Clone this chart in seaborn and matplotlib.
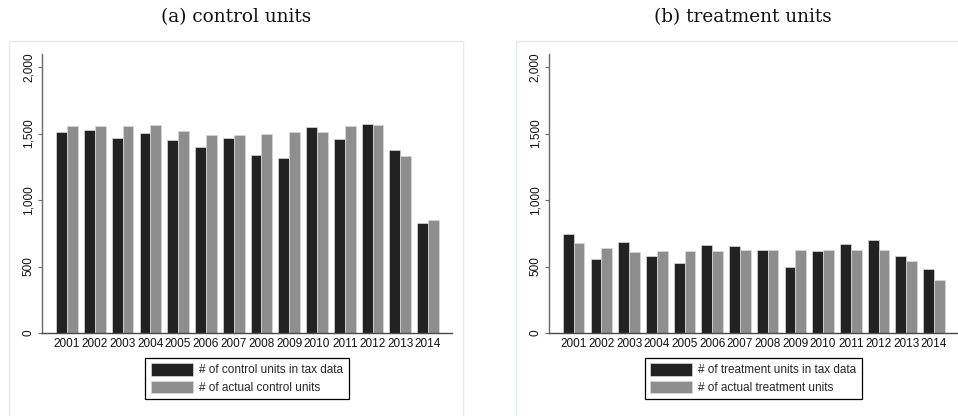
import matplotlib
matplotlib.use("Agg")
import matplotlib.pyplot as plt
from matplotlib.patches import Rectangle
from matplotlib.ticker import FuncFormatter
import seaborn as sns
import pandas as pd

years = [str(y) for y in range(2001, 2015)]

control_tax = [1511, 1524, 1464, 1504, 1449, 1398, 1469, 1338, 1313, 1546, 1456, 1571, 1376, 829]
control_actual = [1556, 1556, 1556, 1561, 1519, 1489, 1489, 1496, 1509, 1509, 1559, 1564, 1328, 850]

treat_tax = [742, 559, 687, 579, 524, 662, 654, 626, 499, 617, 669, 697, 581, 481]
treat_actual = [677, 642, 609, 617, 619, 619, 624, 624, 624, 624, 624, 624, 541, 398]

panels = [
    ("(a) control units", control_tax, control_actual,
     "# of control units in tax data", "# of actual control units"),
    ("(b) treatment units", treat_tax, treat_actual,
     "# of treatment units in tax data", "# of actual treatment units"),
]

sns.set_theme(style="white")
plt.rcParams["font.family"] = ["Liberation Sans", "DejaVu Sans"]

W, H = 958, 416
fig = plt.figure(figsize=(W / 100, H / 100), dpi=100)
fig.patch.set_facecolor("white")

def fx(px):
    return px / W

def fy(py):
    return 1 - py / H

# panel frames: (left, right) in pixels, top at y=41
frames = [(9.3, 463.3), (516.3, 969.0)]
axes_px = [(42.3, 451.7), (549.0, 957.5)]
ax_top, ax_bot = 54.0, 333.0

dark, grey = "#222222", "#8e8e8e"

for (title, tax, actual, lab1, lab2), (fl, fr), (al, ar) in zip(panels, frames, axes_px):
    fig.patches.append(Rectangle((fx(fl), fy(430)), fx(fr - fl), (430 - 41) / H,
                                 transform=fig.transFigure, facecolor="none",
                                 edgecolor="#e4ebee", linewidth=1.0, zorder=-1))
    fig.text(fx((fl + fr) / 2), fy(17), title, ha="center", va="center",
             family="DejaVu Serif", fontsize=13.3, color="#111111")

    ax = fig.add_axes([fx(al), fy(ax_bot), fx(ar - al), (ax_bot - ax_top) / H])
    ax.set_facecolor("none")

    df = pd.DataFrame({
        "year": years * 2,
        "count": tax + actual,
        "series": [lab1] * len(years) + [lab2] * len(years),
    })
    sns.barplot(data=df, x="year", y="count", hue="series",
                palette=[dark, grey], width=0.78, saturation=1,
                ax=ax, errorbar=None, edgecolor="#d8d8d8", linewidth=0.5)

    ax.set_xlim(-0.89, 13.85)
    ax.set_ylim(0, 2098)
    ax.set_yticks([0, 500, 1000, 1500, 2000])
    ax.yaxis.set_major_formatter(FuncFormatter(lambda v, p: f"{int(v):,}"))
    ax.set_xlabel("")
    ax.set_ylabel("")

    for s in ("top", "right"):
        ax.spines[s].set_visible(False)
    ax.spines["left"].set_color("#6a6a6a")
    ax.spines["bottom"].set_color("#4a4a4a")
    ax.spines["left"].set_linewidth(1.0)
    ax.spines["bottom"].set_linewidth(1.0)

    ax.tick_params(axis="y", direction="out", length=3, width=0.8, color="#6a6a6a",
                   pad=2.5, labelsize=8.5, labelcolor="#111111", left=True)
    for t in ax.get_yticklabels():
        t.set_rotation(90)
        t.set_va("center")
    ax.tick_params(axis="x", length=0, pad=3.5, labelsize=8.5, labelcolor="#111111")

    leg = ax.legend(loc="upper center", bbox_to_anchor=(0.5, -0.09),
                    ncol=1, frameon=True, fancybox=False, fontsize=8.5,
                    handlelength=3.6, handleheight=1.2, handletextpad=0.5,
                    labelspacing=0.35, borderpad=0.45, borderaxespad=0)
    leg.get_frame().set_edgecolor("black")
    leg.get_frame().set_linewidth(0.9)
    leg.get_frame().set_alpha(1)
    for h in leg.legend_handles:
        h.set_edgecolor("#d8d8d8")

fig.savefig("out.png", dpi=100, facecolor="white")
